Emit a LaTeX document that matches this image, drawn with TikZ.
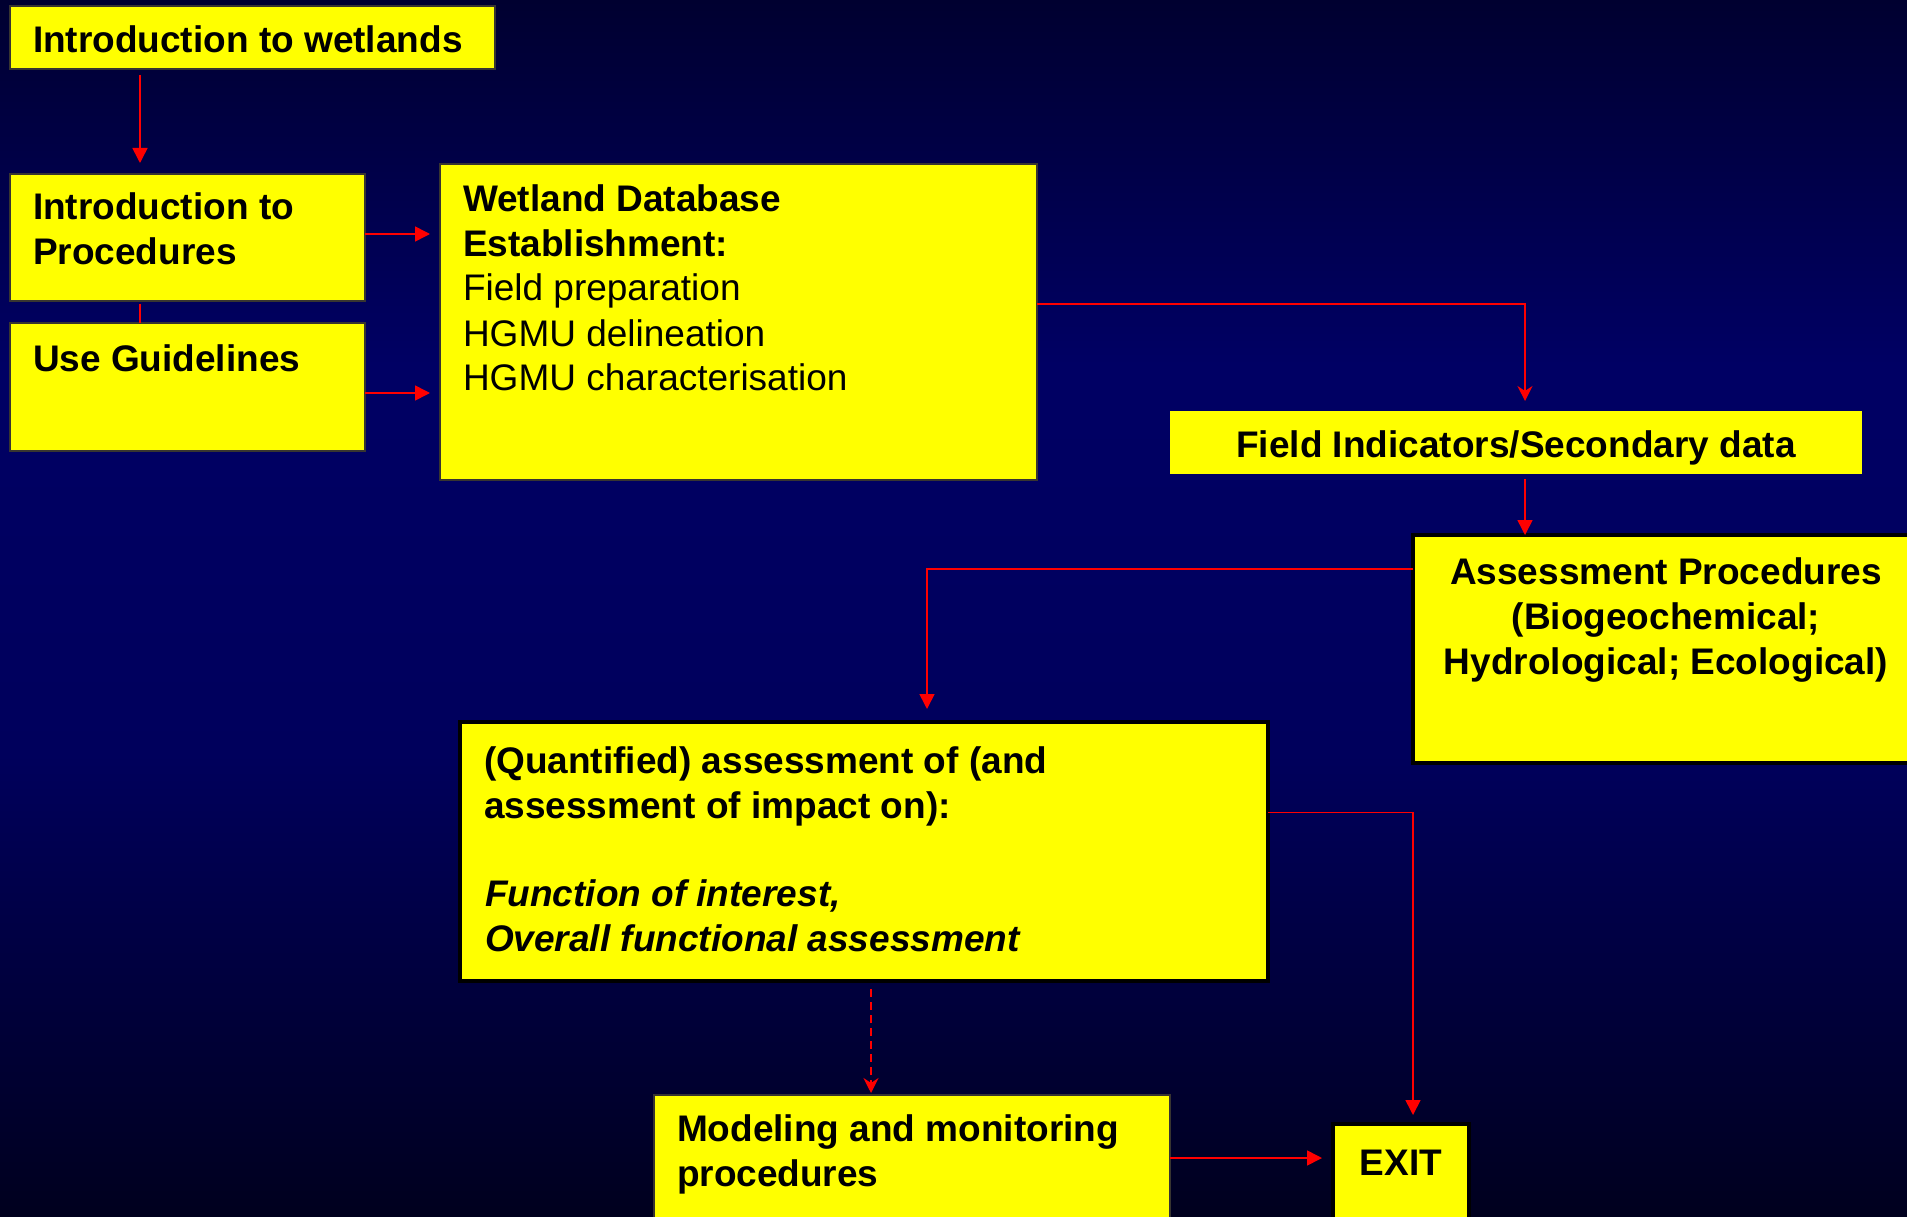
\documentclass[tikz,border=0pt]{standalone}
\usepackage{fontspec}
\setmainfont{Liberation Sans}
\usetikzlibrary{arrows.meta,calc}

\definecolor{bgtop}{RGB}{0,0,48}
\definecolor{bgmid}{RGB}{0,0,100}
\definecolor{bglow}{RGB}{0,0,92}
\definecolor{bgbot}{RGB}{0,0,30}
\definecolor{boxyellow}{RGB}{255,255,0}
\definecolor{linkred}{RGB}{255,0,0}

% vertical background ramp (path is fitted into 25bp..75bp)
\pgfdeclareverticalshading{slidebg}{100bp}{%
  color(0bp)=(bgbot); color(25bp)=(bgbot); color(44bp)=(bglow);
  color(60bp)=(bgmid); color(75bp)=(bgtop); color(100bp)=(bgtop)}

\tikzset{
  panel/.style={fill=boxyellow, anchor=north west, inner sep=0pt, outer sep=0pt},
  thinpanel/.style={panel, draw=black!90!yellow, line width=1.4pt},
  boldpanel/.style={panel, draw=black, line width=4.5pt},
  plainpanel/.style={panel, draw=none},
  txt/.style={inner sep=0pt, outer sep=0pt, text=black,
    font=\fontsize{37}{44.6}\selectfont},
  ltxt/.style={txt, anchor=base west},
  ctxt/.style={txt, anchor=base},
  flow/.style={draw=linkred, line width=1.6pt},
  arr/.style={flow, -{Triangle[length=15pt,width=15pt]}},
  notcharr/.style={flow, -{Stealth[length=15pt,width=15pt,inset=5pt]}},
}

\begin{document}
\begin{tikzpicture}[x=1pt, y=-1pt]
  \useasboundingbox (0,0) rectangle (1907,1217);
  \clip (0,0) rectangle (1907,1217);
  \shade[shading=slidebg] (0,0) rectangle (1907,1217);

  % boxes
  \node[thinpanel, minimum width=485pt, minimum height=63pt]  (wet)    at (10,6) {};
  \node[thinpanel, minimum width=355pt, minimum height=127pt] (proc)   at (10,174) {};
  \node[thinpanel, minimum width=355pt, minimum height=128pt] (guide)  at (10,323) {};
  \node[thinpanel, minimum width=597pt, minimum height=316pt] (wdb)    at (440,164) {};
  \node[plainpanel, minimum width=692pt, minimum height=63pt] (field)  at (1170,411) {};
  \node[boldpanel, minimum width=507pt, minimum height=228pt] (assess) at (1413,535) {};
  \node[boldpanel, minimum width=808pt, minimum height=259pt] (quant)  at (460,722) {};
  \node[thinpanel, minimum width=516pt, minimum height=135pt] (model)  at (654,1095) {};
  \node[boldpanel, minimum width=136pt, minimum height=135pt] (exit)   at (1333,1124) {};

  % texts
  \node[ltxt] (wetT) at (33,53) {\bfseries Introduction to wetlands};
  \node[ltxt] (procT1) at (33,220) {\bfseries Introduction to};
  \node[ltxt] (procT2) at (33,265) {\bfseries Procedures};
  \node[ltxt] (guideT) at (33,371) {\bfseries Use Guidelines};

  \node[ltxt] (wdbT1) at (463,212) {\bfseries Wetland Database};
  \node[ltxt] (wdbT2) at (463,257) {\bfseries Establishment:};
  \node[ltxt] (wdbT3) at (463,301) {Field preparation};
  \node[ltxt] (wdbT4) at (463,346) {HGMU delineation};
  \node[ltxt] (wdbT5) at (463,390) {HGMU characterisation};

  \node[ctxt] (fieldT) at (1516,457) {\bfseries Field Indicators/Secondary data};

  \node[ctxt] (assessT1) at (1666,584) {\bfseries Assessment Procedures};
  \node[ctxt] (assessT2) at (1666,629) {\bfseries (Biogeochemical;};
  \node[ctxt] (assessT3) at (1666,674) {\bfseries Hydrological; Ecological)};

  \node[ltxt] (quantT1) at (484,773) {\bfseries (Quantified) assessment of (and};
  \node[ltxt] (quantT2) at (484,818) {\bfseries assessment of impact on):};
  \node[ltxt] (quantT3) at (485,906) {\bfseries\itshape Function of interest,};
  \node[ltxt] (quantT4) at (485,951) {\bfseries\itshape Overall functional assessment};

  \node[ltxt] (modelT1) at (677,1141) {\bfseries Modeling and monitoring};
  \node[ltxt] (modelT2) at (677,1186) {\bfseries procedures};

  \node[ctxt] (exitT) at (1401,1175) {\bfseries EXIT};

  % connectors
  \draw[arr, shorten <=6pt, shorten >=11pt]
    ([xshift=130pt]wet.south west) -- ([xshift=130pt]proc.north west);
  \draw[flow, shorten <=3pt]
    ([xshift=130pt]proc.south west) -- ([xshift=130pt]guide.north west);
  \draw[arr, shorten >=10pt]
    ([yshift=3.5pt]proc.east) -- ([yshift=3.5pt]proc.east -| wdb.west);
  \draw[arr, shorten >=10pt]
    ([yshift=-6pt]guide.east) -- ([yshift=-6pt]guide.east -| wdb.west);
  \draw[notcharr, shorten >=10pt]
    ([yshift=18pt]wdb.east) -| ([xshift=9pt]field.north);
  \draw[arr, shorten <=5pt]
    ([xshift=9pt]field.south) -- ([xshift=9pt]field.south |- assess.north);
  \draw[arr, shorten >=13pt]
    ([yshift=80pt]assess.west) -| ([xshift=63pt]quant.north);
  \draw[arr, shorten >=9pt]
    ([yshift=39pt]quant.east) -| ([xshift=12pt]exit.north);
  \draw[notcharr, dash pattern=on 8pt off 5pt, shorten <=8pt, shorten >=2pt]
    ([xshift=7pt]quant.south) -- ([xshift=7pt]quant.south |- model.north);
  \draw[arr, shorten >=11pt]
    ([yshift=4.5pt]model.east) -- ([yshift=4.5pt]model.east -| exit.west);
\end{tikzpicture}
\end{document}
